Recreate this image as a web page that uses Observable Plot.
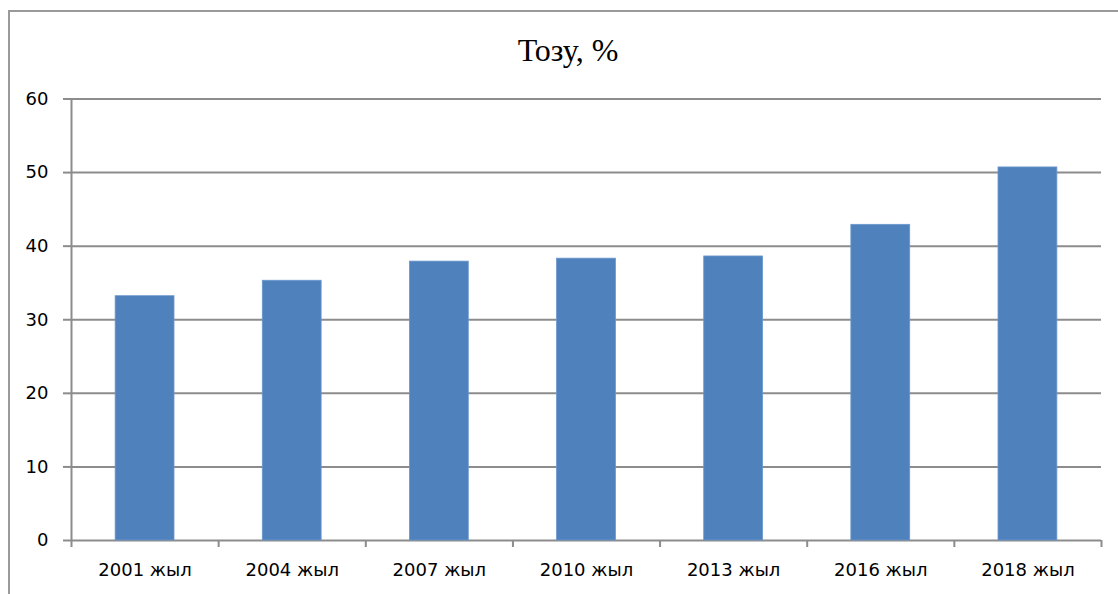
<!DOCTYPE html>
<html>
<head>
<meta charset="utf-8">
<script src="https://cdn.jsdelivr.net/npm/d3@7"></script>
<script src="https://cdn.jsdelivr.net/npm/@observablehq/plot@0.6"></script>
<style>
  html, body { margin: 0; padding: 0; background: #fff; }
  body { width: 1118px; height: 594px; overflow: hidden; position: relative; }
  #frame {
    position: absolute; left: 8px; top: 10px; width: 1300px; height: 800px;
    border: 2px solid #9a9a9a; box-sizing: border-box;
  }
  #title {
    position: absolute; left: 18px; width: 1100px; top: 34px;
    text-align: center; font-family: "Liberation Serif", serif;
    font-size: 32px; line-height: 32px; color: #000;
  }
  #chart { position: absolute; left: 0; top: 0; }
</style>
</head>
<body>
<div id="frame"></div>
<div id="title">Тозу, %</div>
<div id="chart"></div>
<script>
// Share of the indicator by survey year
const years = ["2001 жыл", "2004 жыл", "2007 жыл", "2010 жыл", "2013 жыл", "2016 жыл", "2018 жыл"];
const values = [33.2, 35.3, 37.9, 38.3, 38.6, 42.9, 50.7];
const yTicks = [0, 10, 20, 30, 40, 50, 60];

const rows = years.map((year, i) => ({year, i, value: values[i]}));
const gray = "#8c8c8c";

const chart = Plot.plot({
  width: 1118,
  height: 594,
  marginLeft: 71,
  marginRight: 17,
  marginTop: 98.5,
  marginBottom: 54,
  style: {fontFamily: "DejaVu Sans", fontSize: "18px", color: "#000", background: "transparent"},
  x: {type: "linear", domain: [0, years.length]},
  y: {domain: [0, 60]},
  marks: [
    // horizontal gridlines
    Plot.ruleY(yTicks, {stroke: gray, strokeWidth: 2}),
    // bars, centred in each category slot
    Plot.rectY(rows, {
      x1: d => d.i + 0.3,
      x2: d => d.i + 0.7,
      y: "value",
      fill: "#4f81bd",
      stroke: "#6b97cc",
      strokeWidth: 0.8
    }),
    // value axis line
    Plot.ruleX([0], {y1: 0, y2: 60, stroke: gray, strokeWidth: 2}),
    Plot.axisY({
      ticks: yTicks, tickSize: 8, tickPadding: 15,
      stroke: gray, strokeWidth: 2, strokeOpacity: 1,
      fontSize: 18, fill: "#000", label: null
    }),
    // category boundary ticks
    Plot.axisX({
      ticks: d3.range(years.length + 1), tickSize: 7,
      tickFormat: () => "", stroke: gray, strokeWidth: 2, strokeOpacity: 1, label: null
    }),
    // category labels
    Plot.axisX({
      ticks: rows.map(d => d.i + 0.5), tickSize: 0, tickPadding: 23,
      tickFormat: t => years[Math.floor(t)], fontSize: 18, fill: "#000", label: null
    })
  ]
});
document.getElementById("chart").appendChild(chart);
</script>
</body>
</html>
